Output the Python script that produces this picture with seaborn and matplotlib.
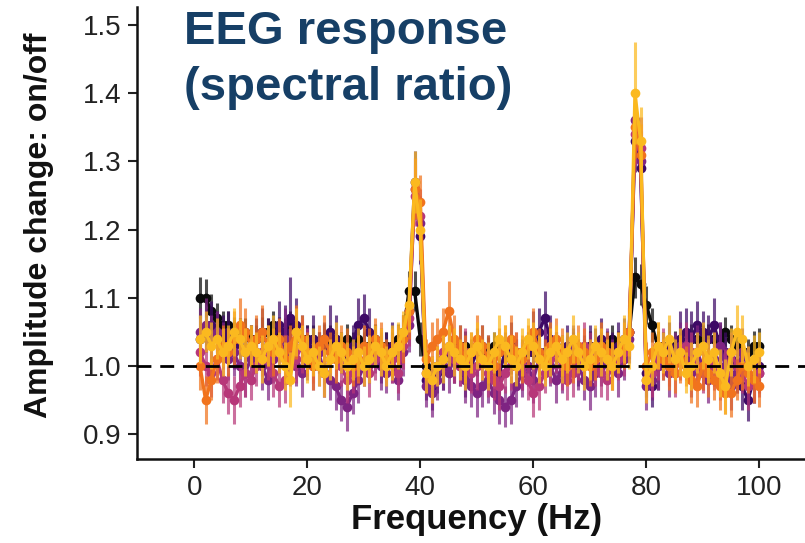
import numpy as np
import pandas as pd
import matplotlib
matplotlib.use("Agg")
import matplotlib.pyplot as plt
import seaborn as sns

# ---------------- data ----------------
freq = list(range(1, 101))

series_names = ["s1", "s2", "s3", "s4", "s5", "s6"]
series_colors = ["#0a0a0a", "#3d0965", "#7e2482", "#b73779", "#f1731d", "#fbb91f"]

s1 = [1.10, 1.10, 1.08, 1.07, 1.06, 1.06, 1.05, 1.05, 1.05, 1.04,
      1.04, 1.05, 1.05, 1.06, 1.05, 1.05, 1.06, 1.05, 1.04, 1.04,
      1.04, 1.03, 1.04, 1.04, 1.03, 1.03, 1.04, 1.03, 1.04, 1.03,
      1.03, 1.04, 1.03, 1.03, 1.03, 1.04, 1.05, 1.11, 1.11, 1.04,
      1.00, 0.99, 1.00, 1.01, 1.02, 1.02, 1.02, 1.03, 1.02, 1.02,
      1.02, 1.02, 1.03, 1.02, 1.02, 1.01, 1.02, 1.02, 1.03, 1.02,
      1.02, 1.02, 1.03, 1.03, 1.02, 1.02, 1.03, 1.02, 1.02, 1.03,
      1.02, 1.03, 1.03, 1.04, 1.03, 1.03, 1.05, 1.13, 1.12, 1.09,
      1.06, 1.03, 1.03, 1.02, 1.03, 1.03, 1.03, 1.04, 1.04, 1.04,
      1.04, 1.04, 1.04, 1.05, 1.04, 1.03, 1.02, 1.02, 1.03, 1.03]
s1_err = [.030, .028, .025, .022, .020, .020, .022, .020, .020, .020,
          .020, .022, .020, .020, .022, .020, .020, .022, .020, .020,
          .020, .020, .022, .020, .020, .020, .022, .020, .020, .020,
          .020, .022, .020, .020, .020, .022, .025, .030, .030, .025,
          .020, .020, .020, .020, .022, .020, .020, .022, .020, .020,
          .020, .022, .020, .020, .020, .022, .020, .020, .020, .022,
          .020, .020, .022, .020, .020, .022, .020, .020, .020, .022,
          .020, .020, .022, .020, .022, .020, .025, .030, .030, .028,
          .025, .022, .020, .020, .022, .020, .020, .022, .020, .020,
          .022, .020, .020, .022, .020, .022, .020, .020, .022, .025]

s2 = [1.04, 1.05, 1.06, 1.05, 1.04, 1.05, 1.03, 1.04, 1.02, 1.03,
      1.04, 1.05, 1.03, 1.04, 1.06, 1.05, 1.07, 1.06, 1.04, 1.03,
      1.04, 1.02, 1.03, 1.05, 1.04, 1.02, 1.01, 1.03, 1.06, 1.07,
      1.05, 1.03, 1.01, 1.02, 1.03, 1.02, 1.04, 1.08, 1.27, 1.19,
      0.98, 0.97, 0.99, 1.00, 1.02, 1.01, 1.03, 0.99, 1.00, 1.02,
      1.03, 1.01, 1.00, 0.99, 1.02, 1.03, 1.01, 1.00, 1.02, 1.04,
      1.05, 1.07, 1.04, 1.02, 1.01, 1.03, 1.02, 1.00, 1.01, 1.03,
      1.02, 1.04, 1.01, 1.02, 1.03, 1.04, 1.05, 1.33, 1.29, 0.99,
      0.97, 1.00, 1.02, 1.03, 1.01, 1.04, 1.05, 1.04, 1.06, 1.05,
      1.04, 1.06, 1.03, 1.02, 1.01, 0.99, 0.97, 0.95, 0.98, 1.00]
s2_err = [.035, .030, .035, .030, .035, .030, .035, .030, .035, .030,
          .030, .035, .040, .030, .035, .040, .060, .040, .035, .030,
          .035, .030, .035, .040, .035, .030, .035, .030, .040, .035,
          .035, .030, .035, .030, .035, .030, .035, .040, .045, .040,
          .030, .035, .030, .035, .030, .035, .030, .035, .030, .035,
          .030, .035, .030, .035, .030, .035, .030, .035, .030, .040,
          .035, .040, .035, .030, .035, .030, .035, .030, .035, .030,
          .035, .030, .035, .030, .035, .030, .040, .045, .045, .035,
          .030, .035, .030, .035, .030, .040, .035, .040, .035, .030,
          .035, .040, .035, .030, .035, .030, .035, .030, .035, .030]

s3 = [1.05, 1.06, 1.04, 1.05, 1.03, 1.01, 1.02, 1.00, 0.99, 1.01,
      1.02, 1.00, 0.98, 1.01, 1.03, 1.04, 1.02, 1.00, 0.99, 1.01,
      1.00, 1.02, 0.99, 0.98, 0.97, 0.95, 0.94, 0.96, 0.98, 1.00,
      1.01, 1.02, 1.00, 0.99, 1.01, 0.98, 1.02, 1.06, 1.26, 1.21,
      0.97, 0.96, 0.98, 1.00, 0.99, 1.01, 1.00, 0.98, 0.97, 0.96,
      0.97, 0.98, 0.96, 0.95, 0.94, 0.95, 0.97, 0.99, 1.00, 0.98,
      1.01, 1.02, 1.00, 0.98, 0.99, 1.01, 1.03, 1.00, 0.98, 0.97,
      0.99, 1.00, 1.02, 1.01, 0.99, 1.01, 1.04, 1.36, 1.30, 0.97,
      0.98, 1.00, 1.01, 0.99, 1.02, 1.03, 1.01, 0.99, 1.02, 1.00,
      0.98, 1.01, 1.03, 1.00, 0.97, 0.99, 1.02, 1.00, 0.98, 0.99]
s3_err = [.035, .040, .035, .030, .035, .030, .035, .030, .035, .030,
          .030, .035, .030, .035, .040, .045, .035, .030, .035, .030,
          .035, .030, .035, .030, .035, .030, .035, .030, .035, .030,
          .035, .030, .035, .030, .035, .030, .035, .040, .045, .040,
          .030, .035, .030, .035, .030, .035, .030, .035, .030, .035,
          .030, .035, .030, .035, .030, .035, .030, .035, .030, .035,
          .030, .035, .030, .035, .030, .035, .030, .035, .030, .035,
          .035, .030, .035, .030, .035, .030, .035, .045, .045, .035,
          .030, .035, .030, .035, .030, .035, .030, .035, .040, .035,
          .035, .040, .035, .030, .035, .030, .035, .030, .035, .030]

s4 = [1.02, 1.00, 0.99, 1.01, 0.98, 0.96, 0.95, 0.97, 0.99, 0.98,
      1.00, 1.02, 1.01, 0.99, 0.97, 0.98, 1.00, 1.01, 1.03, 1.02,
      1.01, 1.00, 0.99, 1.01, 1.02, 1.00, 0.98, 0.99, 1.01, 1.00,
      0.99, 1.01, 1.02, 1.00, 1.01, 0.99, 1.03, 1.07, 1.25, 1.22,
      0.99, 0.98, 1.00, 1.02, 1.03, 1.01, 1.00, 1.02, 0.99, 1.00,
      1.01, 0.99, 0.98, 0.97, 0.99, 1.00, 1.02, 1.00, 0.98, 0.96,
      0.97, 0.99, 1.01, 1.02, 1.00, 0.98, 0.99, 1.01, 1.03, 1.02,
      1.00, 0.99, 0.98, 1.00, 1.01, 1.02, 1.05, 1.34, 1.32, 0.98,
      0.99, 1.01, 1.02, 1.00, 0.99, 1.01, 1.03, 1.02, 1.00, 0.99,
      1.01, 1.00, 0.98, 0.99, 1.02, 1.00, 0.99, 0.97, 0.98, 0.99]
s4_err = [.035, .030, .035, .030, .035, .030, .035, .030, .035, .030,
          .030, .035, .030, .035, .030, .035, .030, .035, .040, .035,
          .035, .030, .035, .030, .035, .030, .035, .030, .035, .030,
          .035, .030, .035, .030, .035, .030, .035, .040, .045, .040,
          .030, .035, .030, .035, .030, .035, .030, .035, .030, .035,
          .030, .035, .030, .035, .030, .035, .030, .035, .030, .035,
          .035, .030, .035, .030, .035, .030, .035, .030, .035, .030,
          .030, .035, .030, .035, .030, .035, .035, .045, .045, .035,
          .035, .030, .035, .030, .035, .030, .035, .030, .035, .030,
          .030, .035, .030, .035, .030, .035, .030, .035, .030, .035]

s5 = [1.00, 0.95, 0.98, 1.01, 1.03, 1.02, 1.04, 1.06, 1.05, 1.03,
      1.04, 1.05, 1.03, 1.02, 1.04, 1.01, 1.03, 1.05, 1.04, 1.02,
      1.00, 1.03, 1.04, 1.02, 1.01, 1.03, 1.02, 1.00, 1.01, 1.03,
      1.02, 1.04, 1.03, 1.01, 1.02, 1.03, 1.04, 1.08, 1.26, 1.24,
      1.01, 1.03, 1.04, 1.05, 1.08, 1.04, 1.03, 1.01, 1.02, 1.04,
      1.03, 1.01, 1.00, 1.02, 1.03, 1.04, 1.02, 1.01, 1.03, 1.05,
      1.02, 1.01, 1.03, 1.04, 1.02, 1.00, 1.01, 1.03, 1.02, 1.00,
      1.01, 1.03, 1.02, 1.00, 1.02, 1.03, 1.05, 1.35, 1.31, 1.00,
      1.02, 1.03, 1.01, 1.00, 0.99, 1.01, 1.00, 0.98, 0.97, 1.00,
      0.99, 0.98, 0.97, 0.96, 0.96, 0.98, 1.00, 0.99, 0.98, 0.97]
s5_err = [.035, .035, .030, .035, .030, .035, .040, .040, .035, .030,
          .035, .040, .030, .035, .030, .035, .030, .040, .035, .030,
          .035, .030, .035, .030, .035, .030, .035, .030, .035, .030,
          .035, .030, .035, .030, .035, .030, .035, .040, .045, .040,
          .030, .035, .030, .035, .045, .035, .030, .035, .030, .035,
          .030, .035, .030, .035, .030, .035, .030, .035, .030, .035,
          .035, .030, .035, .030, .035, .030, .035, .030, .035, .030,
          .030, .035, .030, .035, .030, .035, .035, .045, .045, .035,
          .030, .035, .030, .035, .030, .035, .030, .035, .030, .035,
          .035, .030, .035, .030, .035, .030, .035, .030, .035, .030]

s6 = [1.04, 1.05, 1.03, 1.04, 1.02, 1.03, 1.05, 1.04, 1.02, 1.03,
      1.02, 1.01, 1.03, 1.04, 1.02, 1.00, 0.98, 1.05, 1.03, 1.01,
      1.02, 1.00, 0.99, 1.01, 1.03, 1.02, 1.00, 1.01, 1.02, 1.00,
      1.01, 1.03, 1.02, 1.00, 1.02, 1.03, 1.05, 1.09, 1.27, 1.20,
      0.99, 0.98, 1.00, 1.01, 1.03, 1.02, 1.01, 1.00, 1.02, 1.03,
      1.01, 1.00, 1.02, 1.04, 1.03, 1.01, 1.00, 1.02, 1.04, 1.03,
      1.01, 1.00, 1.02, 1.03, 1.01, 1.02, 1.04, 1.02, 1.00, 1.01,
      1.03, 1.02, 1.01, 1.00, 1.02, 1.04, 1.03, 1.40, 1.33, 0.98,
      1.00, 1.03, 1.02, 1.04, 1.01, 1.02, 0.99, 1.00, 1.02, 1.03,
      1.01, 1.02, 0.99, 0.97, 1.02, 1.05, 1.04, 1.00, 1.01, 1.02]
s6_err = [.035, .030, .035, .030, .035, .030, .035, .030, .035, .030,
          .030, .035, .030, .035, .030, .035, .040, .035, .030, .035,
          .035, .030, .035, .030, .035, .030, .035, .030, .035, .030,
          .035, .030, .035, .030, .040, .035, .030, .040, .045, .045,
          .030, .035, .030, .035, .030, .035, .030, .035, .030, .035,
          .030, .035, .030, .035, .030, .035, .030, .035, .030, .035,
          .035, .030, .035, .030, .035, .030, .035, .030, .035, .030,
          .030, .035, .030, .035, .030, .035, .035, .075, .050, .035,
          .030, .035, .030, .035, .030, .035, .030, .035, .030, .035,
          .035, .030, .035, .040, .035, .040, .035, .030, .035, .030]

y_ticks = [0.9, 1.0, 1.1, 1.2, 1.3, 1.4, 1.5]
x_ticks = [0, 20, 40, 60, 80, 100]

values = [s1, s2, s3, s4, s5, s6]
errors = [s1_err, s2_err, s3_err, s4_err, s5_err, s6_err]

# long-form table
rows = []
for name, vals, errs in zip(series_names, values, errors):
    assert len(vals) == len(freq) and len(errs) == len(freq)
    for f, v, e in zip(freq, vals, errs):
        rows.append({"freq": f, "ratio": v, "err": e, "series": name})
df = pd.DataFrame(rows)

# ---------------- style ----------------
sns.set_theme(style="ticks")
plt.rcParams["font.family"] = ["Liberation Sans", "DejaVu Sans"]

W, H = 805, 543
fig = plt.figure(figsize=(W / 100, H / 100), dpi=100)
ax_left, ax_bottom, ax_top, ax_right = 137, 459, 7.3, 805
ax = fig.add_axes([ax_left / W, 1 - ax_bottom / H,
                   (ax_right - ax_left) / W, (ax_bottom - ax_top) / H])

for i, (name, col) in enumerate(zip(series_names, series_colors)):
    sub = df[df["series"] == name]
    ax.vlines(sub["freq"], sub["ratio"] - sub["err"], sub["ratio"] + sub["err"],
              color=col, lw=2.2, alpha=0.72, zorder=3 + 2 * i)
    sns.lineplot(data=sub, x="freq", y="ratio", color=col, marker="o",
                 markersize=7, markeredgewidth=0, linewidth=2.4,
                 errorbar=None, legend=False, ax=ax, zorder=4 + 2 * i)

ax.axhline(1.0, color="black", lw=2.0, ls=(0, (5.0, 3.2)), zorder=30)

ax.set_xlim(-10.15, 108.1)
ax.set_ylim(0.8636, 1.526)
ax.set_xticks(x_ticks)
ax.set_xticklabels([str(t) for t in x_ticks])
ax.set_yticks(y_ticks)
ax.set_yticklabels([f"{t:.1f}" for t in y_ticks])

sns.despine(ax=ax)
for side in ["left", "bottom"]:
    ax.spines[side].set_linewidth(1.8)
    ax.spines[side].set_color("#111111")
ax.tick_params(axis="both", length=6.5, width=1.5, color="#222222",
               labelsize=20, labelcolor="#222222", pad=5)

ax.set_xlabel("Frequency (Hz)", fontsize=25, fontweight="bold", color="#111111")
ax.set_ylabel("Amplitude change: on/off", fontsize=23, fontweight="bold", color="#111111")
axh = ax_bottom - ax_top
axw = ax_right - ax_left
ax.xaxis.set_label_coords((477 - ax_left) / axw, (ax_bottom - 503) / axh)
ax.yaxis.set_label_coords((54 - ax_left) / axw, (ax_bottom - 225) / axh)

title_color = "#163f66"
fig.text(184 / W, 1 - 44 / H, "EEG response", fontsize=34, fontweight="bold",
         color=title_color, ha="left", va="baseline")
fig.text(184 / W, 1 - 100 / H, "(spectral ratio)", fontsize=34, fontweight="bold",
         color=title_color, ha="left", va="baseline")

fig.savefig("out.png", dpi=100)
